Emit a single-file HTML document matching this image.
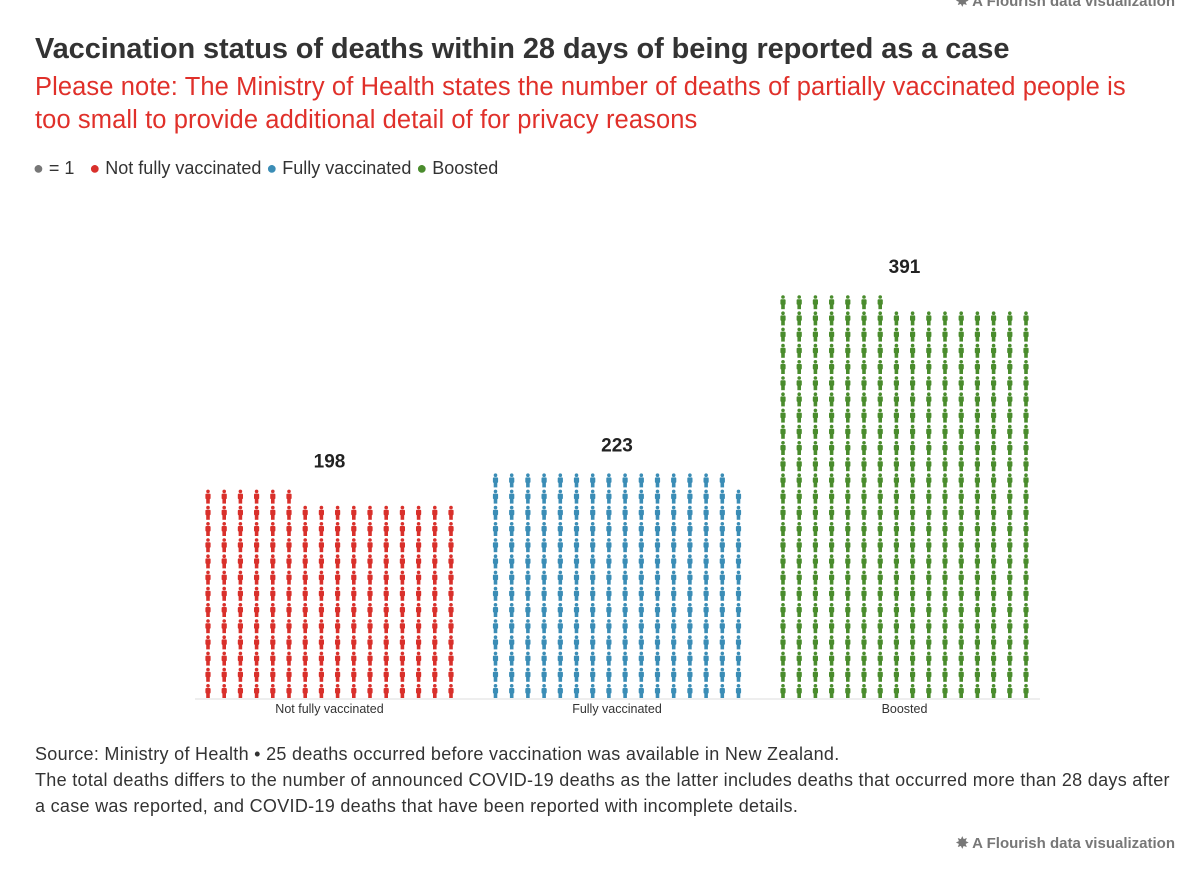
<!DOCTYPE html>
<html><head><meta charset="utf-8"><style>
body{margin:0;width:1200px;height:870px;background:#fff;font-family:"Liberation Sans",sans-serif;overflow:hidden;position:relative}
.t{position:absolute;left:35px;top:33px;font-size:29px;font-weight:bold;color:#333;letter-spacing:-0.1px;white-space:nowrap}
.s{position:absolute;left:35px;top:71px;font-size:25.5px;color:#e0302a;line-height:33px;white-space:nowrap;letter-spacing:0.1px}
.lg{position:absolute;left:33px;top:158px;font-size:18px;color:#333}
.f{position:absolute;left:35px;top:741px;font-size:18px;color:#333;line-height:26px;white-space:nowrap;letter-spacing:0.3px}
.fl{position:absolute;right:25px;font-size:15px;font-weight:bold;color:#777}
</style></head><body>
<div class="fl" style="top:-8px">✸ A Flourish data visualization</div>
<div class="t">Vaccination status of deaths within 28 days of being reported as a case</div>
<div class="s">Please note: The Ministry of Health states the number of deaths of partially vaccinated people is<br>too small to provide additional detail of for privacy reasons</div>
<div class="lg">
<span><span style="color:#777">●</span> = 1</span>&nbsp;&nbsp;
<span><span style="color:#d9302b">●</span> Not fully vaccinated</span>
<span><span style="color:#3b8db6">●</span> Fully vaccinated</span>
<span><span style="color:#4a8c2d">●</span> Boosted</span>
</div>
<svg id="c" width="1200" height="870" style="position:absolute;left:0;top:0"></svg>
<div class="f">Source: Ministry of Health • 25 deaths occurred before vaccination was available in New Zealand.<br>The total deaths differs to the number of announced COVID-19 deaths as the latter includes deaths that occurred more than 28 days after<br>a case was reported, and COVID-19 deaths that have been reported with incomplete details.</div>
<div class="fl" style="top:834px">✸ A Flourish data visualization</div>
<script>
const categories=["Not fully vaccinated","Fully vaccinated","Boosted"];
const values=[198,223,391];
const colors=["#d9302b","#3b8db6","#4a8c2d"];
const cols=16;
const svg=document.getElementById('c');
const NS="http://www.w3.org/2000/svg";
const groupX=i=>208+i*287.5, colX=c=>c*16.2, rowY=r=>684-r*16.2;
function mk(t,a){const e=document.createElementNS(NS,t);for(const k in a)e.setAttribute(k,a[k]);svg.appendChild(e);return e;}
const ax=mk('line',{x1:195,x2:1040,y1:699,y2:699,stroke:'#ddd'});


categories.forEach((cat,i)=>{
  const n=values[i];
  for(let k=0;k<n;k++){
    const r=Math.floor(k/cols), c=k%cols;
    const x=groupX(i)+colX(c), y=rowY(r);
    const g=document.createElementNS(NS,'g');
    
    
    g.setAttribute('fill',colors[i]);
    g.innerHTML=`<circle cx="${x}" cy="${y+1.8}" r="1.8"/><rect x="${x-2.6}" y="${y+4}" width="5.2" height="5.5" rx="1"/><rect x="${x-1.8}" y="${y+9}" width="3.6" height="5"/>`;
    svg.appendChild(g);
  }
  const rows=Math.ceil(n/cols);
  const cx=groupX(i)+colX(cols-1)/2;
  const v=mk('text',{x:cx,y:rowY(rows-1)-22,'text-anchor':'middle','font-size':19,'font-weight':'bold',fill:'#222'});
  v.textContent=n;
  
  
  const l=mk('text',{x:cx,y:713,'text-anchor':'middle','font-size':12.5,fill:'#333'});
  l.textContent=cat;
  
  
});
</script>
</body></html>
